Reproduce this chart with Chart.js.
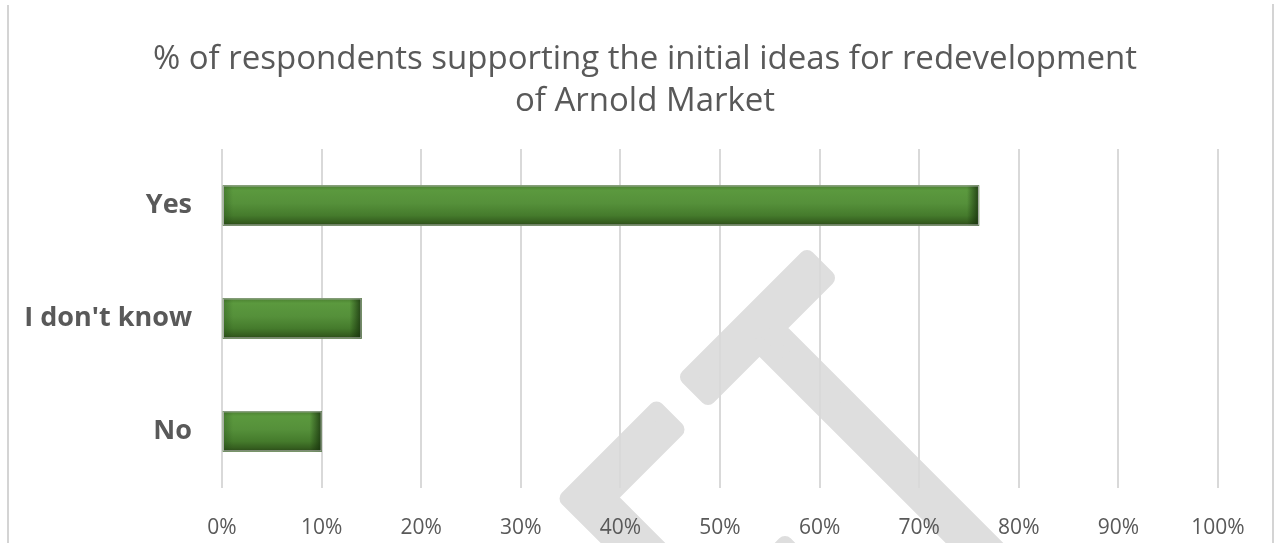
<!DOCTYPE html>
<html>
<head>
<meta charset="utf-8">
<script src="https://cdn.jsdelivr.net/npm/chart.js@4"></script>
<style>
  html, body { margin: 0; padding: 0; background: #fff; }
  #wrap { width: 1275px; height: 543px; }
</style>
</head>
<body>
<div id="wrap"><canvas id="chart"></canvas></div>
<script>
const categories = ['Yes', "I don't know", 'No'];
const supportPct = [76, 14, 10];
const titleLines = ['% of respondents supporting the initial ideas for redevelopment', 'of Arnold Market'];

const textGrey = '#595959';
const fontFamily = '"Open Sans", "Liberation Sans", sans-serif';

// point from diagonal coords (c = x - y, d = x + y)
function cd(c, d) { return [(c + d) / 2, (d - c) / 2]; }

// light grey watermark shapes behind the chart, plus the page borders
const backdrop = {
  id: 'backdrop',
  beforeDraw(chart) {
    const ctx = chart.ctx;
    const k = 11;
    const shapes = [
      [[258 - k, 1055 + k], [258 - k, 1117 - k], [122 - k, 1117 - k], [122 - k, 1500], [58 + k, 1500], [58 + k, 1055 + k]],
      [[300 + k, 1054 + k], [560 - k, 1054 + k], [560 - k, 1116 - k], [460 - k, 1116 - k], [460 - k, 1600], [403 + k, 1600], [403 + k, 1116 - k], [300 + k, 1116 - k]],
      [[252 - k, 1318 + k], [252 - k, 1380 - k], [100, 1380 - k], [100, 1318 + k]]
    ];
    ctx.save();
    ctx.fillStyle = '#dedede';
    ctx.strokeStyle = '#dedede';
    ctx.lineWidth = 16;
    ctx.lineJoin = 'round';
    shapes.forEach(s => {
      ctx.beginPath();
      s.forEach((p, i) => {
        const [x, y] = cd(p[0], p[1]);
        if (i === 0) ctx.moveTo(x, y); else ctx.lineTo(x, y);
      });
      ctx.closePath();
      ctx.fill();
      ctx.stroke();
    });
    ctx.fillStyle = '#d4d4d4';
    ctx.fillRect(7, 5, 2, 538);
    ctx.fillRect(1272, 4, 2, 539);
    ctx.restore();
  }
};

// title is centred on the whole chart object, not on the plot
const titleText = {
  id: 'titleText',
  afterDraw(chart) {
    const ctx = chart.ctx;
    ctx.save();
    ctx.fillStyle = textGrey;
    ctx.font = '33px ' + fontFamily;
    ctx.textAlign = 'center';
    ctx.textBaseline = 'middle';
    titleLines.forEach((line, i) => ctx.fillText(line, 645, 60 + i * 42));
    ctx.restore();
  }
};

// shaded bevel look for the bars
const bevel = {
  id: 'bevel',
  afterDatasetsDraw(chart) {
    const ctx = chart.ctx;
    chart.getDatasetMeta(0).data.forEach(bar => {
      const { x, y, base, height } = bar.getProps(['x', 'y', 'base', 'height'], true);
      const top = y - height / 2, left = base, w = x - base;
      ctx.save();
      let g = ctx.createLinearGradient(0, top, 0, top + height);
      g.addColorStop(0, '#4a7f30');
      g.addColorStop(0.12, '#5b993e');
      g.addColorStop(0.45, '#55903a');
      g.addColorStop(0.75, '#457b2c');
      g.addColorStop(0.92, '#355e1f');
      g.addColorStop(1, '#2a4817');
      ctx.fillStyle = g;
      ctx.fillRect(left, top, w, height);
      g = ctx.createLinearGradient(x - 12, 0, x, 0);
      g.addColorStop(0, 'rgba(20,45,10,0)');
      g.addColorStop(1, 'rgba(20,45,10,0.8)');
      ctx.fillStyle = g;
      ctx.fillRect(x - 12, top, 12, height);
      g = ctx.createLinearGradient(left, 0, left + 10, 0);
      g.addColorStop(0, 'rgba(30,70,20,0.35)');
      g.addColorStop(1, 'rgba(30,70,20,0)');
      ctx.fillStyle = g;
      ctx.fillRect(left, top, 10, height);
      ctx.strokeStyle = '#a8ada6';
      ctx.lineWidth = 1;
      ctx.strokeRect(left + 0.5, top + 0.5, w - 1, height - 1);
      ctx.restore();
    });
  }
};

new Chart(document.getElementById('chart'), {
  type: 'bar',
  data: {
    labels: categories,
    datasets: [{
      data: supportPct,
      backgroundColor: '#508a35',
      barThickness: 40
    }]
  },
  options: {
    indexAxis: 'y',
    responsive: true,
    maintainAspectRatio: false,
    animation: false,
    layout: { padding: { left: 24, right: 57, top: 149, bottom: -26 } },
    plugins: {
      legend: { display: false },
      tooltip: { enabled: false },
      title: { display: false }
    },
    scales: {
      x: {
        min: 0,
        max: 100,
        border: { display: false },
        grid: { color: '#d9d9d9', lineWidth: 2, drawTicks: false },
        ticks: {
          stepSize: 10,
          padding: 28,
          color: textGrey,
          font: { family: fontFamily, size: 21 },
          callback: v => v + '%'
        }
      },
      y: {
        border: { display: false },
        grid: { display: false, drawTicks: false },
        afterFit: scale => { scale.width = 198; },
        ticks: {
          padding: 30,
          color: textGrey,
          font: { family: fontFamily, size: 27, weight: 'bold' }
        }
      }
    }
  },
  plugins: [backdrop, bevel, titleText]
});
</script>
</body>
</html>
